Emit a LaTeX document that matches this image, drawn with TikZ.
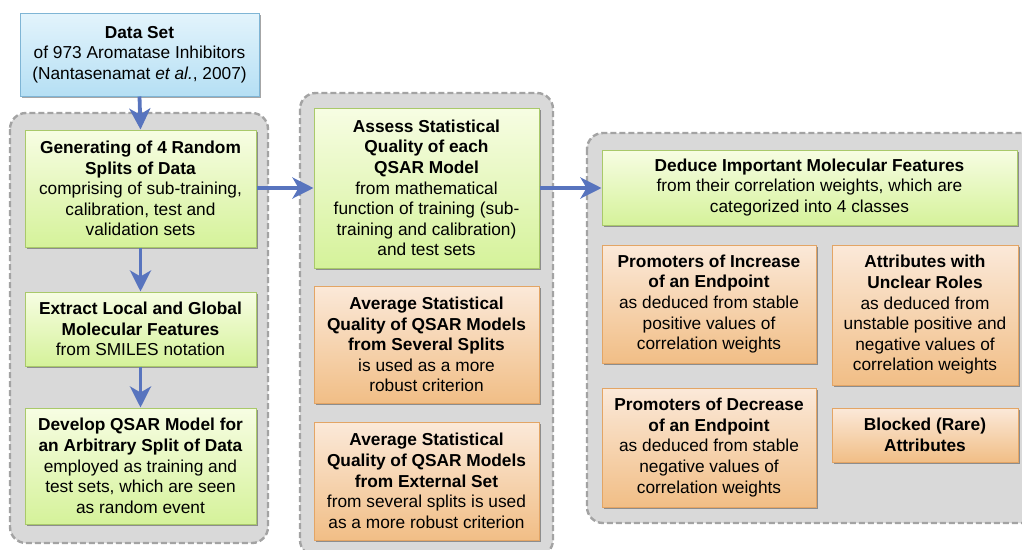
\documentclass[tikz,border=0pt]{standalone}
\usepackage{fontspec}
\setmainfont{Liberation Sans}
\usetikzlibrary{arrows.meta,shadows}
\definecolor{flowblue}{HTML}{5874BE}
\definecolor{groupfill}{HTML}{D9D9D9}
\definecolor{groupline}{HTML}{A3A3A3}
\definecolor{blueedge}{HTML}{7FB5D5}
\definecolor{bluetop}{HTML}{E3F4FC}
\definecolor{bluebottom}{HTML}{B5DFF4}
\definecolor{greenedge}{HTML}{A9C96A}
\definecolor{greentop}{HTML}{F7FDE3}
\definecolor{greenbottom}{HTML}{D5F29A}
\definecolor{orangeedge}{HTML}{E3A565}
\definecolor{orangetop}{HTML}{FBE9D9}
\definecolor{orangebottom}{HTML}{F1BE86}
\tikzset{
  x=1pt, y=-1pt,
  group/.style={draw=groupline, fill=groupfill, line width=2.4pt,
    dash pattern=on 6pt off 3pt, rounded corners=16pt},
  box/.style={draw, line width=1pt, align=center, inner sep=1pt,
    font=\fontsize{17.3}{20.6}\selectfont,
    drop shadow={shadow xshift=1.8pt, shadow yshift=-1.8pt, opacity=0.35, fill=black}},
  bluebox/.style={box, draw=blueedge, top color=bluetop, bottom color=bluebottom},
  greenbox/.style={box, draw=greenedge, top color=greentop, bottom color=greenbottom},
  orangebox/.style={box, draw=orangeedge, top color=orangetop, bottom color=orangebottom},
  flow/.style={draw=flowblue, line width=3.8pt,
    -{Stealth[length=21pt,width=21pt,inset=6pt]}},
}
\begin{document}
\begin{tikzpicture}
\useasboundingbox (0,0) rectangle (1022,549);
\clip (0,0) rectangle (1022,549);

% stage containers
\draw[group] (10,113) rectangle (268,543);
\draw[group] (300,93) rectangle (553,556);
\draw[group] (587,133) rectangle (1040,523);

% first stage
\node[bluebox, minimum width=239pt, minimum height=83pt] (data) at (139.5,54.5)
  {\textbf{Data Set}\\of 973 Aromatase Inhibitors\\(Nantasenamat \textit{et al.}, 2007)};
\node[greenbox, minimum width=231pt, minimum height=117pt] (gen) at (140.5,188.5)
  {\textbf{Generating of 4 Random}\\\textbf{Splits of Data}\\comprising of sub-training,\\calibration, test and\\validation sets};
\node[greenbox, minimum width=231pt, minimum height=74pt] (ext) at (140.5,329)
  {\textbf{Extract Local and Global}\\\textbf{Molecular Features}\\from SMILES notation};
\node[greenbox, minimum width=231pt, minimum height=116pt] (dev) at (140.5,466)
  {\textbf{Develop QSAR Model for}\\\textbf{an Arbitrary Split of Data}\\employed as training and\\test sets, which are seen\\as random event};

% second stage
\node[greenbox, minimum width=225pt, minimum height=160pt] (assess) at (426.5,188)
  {\textbf{Assess Statistical}\\\textbf{Quality of each}\\\textbf{QSAR Model}\\from mathematical\\function of training (sub-\\training and calibration)\\and test sets};
\node[orangebox, minimum width=225pt, minimum height=117pt] (avgsplit) at (426.5,344.5)
  {\textbf{Average Statistical}\\\textbf{Quality of QSAR Models}\\\textbf{from Several Splits}\\is used as a more\\robust criterion};
\node[orangebox, minimum width=225pt, minimum height=118pt] (avgext) at (426.5,481)
  {\textbf{Average Statistical}\\\textbf{Quality of QSAR Models}\\\textbf{from External Set}\\from several splits is used\\as a more robust criterion};

% third stage
\node[greenbox, minimum width=415pt, minimum height=75pt] (deduce) at (809.5,187.5)
  {\textbf{Deduce Important Molecular Features}\\from their correlation weights, which are\\categorized into 4 classes};
\node[orangebox, minimum width=214pt, minimum height=118pt] (pinc) at (709,304)
  {\textbf{Promoters of Increase}\\\textbf{of an Endpoint}\\as deduced from stable\\positive values of\\correlation weights};
\node[orangebox, minimum width=186pt, minimum height=140pt] (unclear) at (925,315)
  {\textbf{Attributes with}\\\textbf{Unclear Roles}\\as deduced from\\unstable positive and\\negative values of\\correlation weights};
\node[orangebox, minimum width=214pt, minimum height=119pt] (pdec) at (709,447.5)
  {\textbf{Promoters of Decrease}\\\textbf{of an Endpoint}\\as deduced from stable\\negative values of\\correlation weights};
\node[orangebox, minimum width=186pt, minimum height=54pt] (blocked) at (925,435)
  {\textbf{Blocked (Rare)}\\\textbf{Attributes}};

% flow
\draw[flow] (data.south) -- (gen.north);
\draw[flow] (gen.south) -- (ext.north);
\draw[flow] (ext.south) -- (dev.north);
\draw[flow] (gen.east |- assess.west) -- (assess.west);
\draw[flow] (assess.east) -- (deduce.west |- assess.east);
\end{tikzpicture}
\end{document}
